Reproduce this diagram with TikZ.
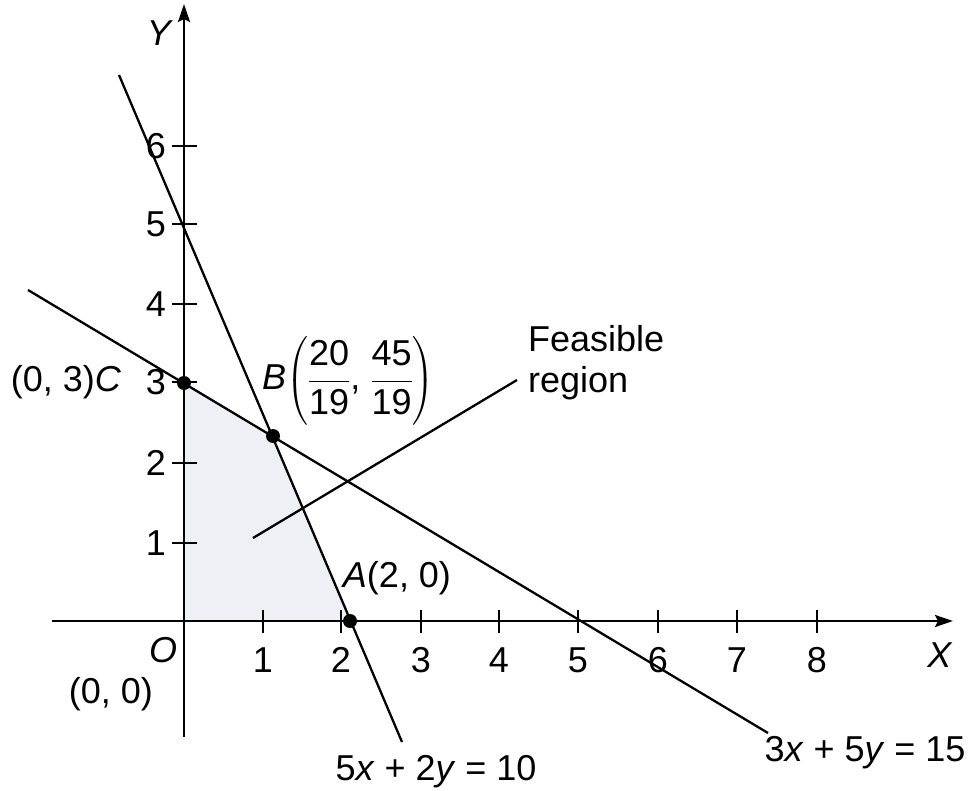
\RequirePackage{fix-cm}
\documentclass[tikz,border=0pt]{standalone}
\usepackage{amsmath}
\usepackage{fontspec}
\setmainfont{Liberation Sans}
\usetikzlibrary{arrows.meta}
\definecolor{feas}{RGB}{239,240,245}
\begin{document}
\begin{tikzpicture}[x=1pt,y=-1pt,
  lbl/.style={font=\fontsize{36}{40}\selectfont, inner sep=0pt},
  ln/.style={line width=2.3pt},
  axisln/.style={line width=2.3pt, -{Stealth[length=18pt,width=12pt,inset=3pt]}},
  tickln/.style={line width=2pt},
  dot/.style={circle, fill=black, inner sep=0pt, minimum size=14pt}]
\useasboundingbox (0,0) rectangle (972,791);
% key points
\coordinate (O) at (184,621);
\coordinate (Cp) at (184,383);
\coordinate (Bp) at (273,436);
\coordinate (Ap) at (350,621);
% feasible region
\fill[feas] (O) -- (Cp) -- (Bp) -- (Ap) -- cycle;
% axes
\coordinate (yb) at (184,737);
\coordinate (yt) at (184,4);
\coordinate (xl) at (52,621);
\coordinate (xr) at (953,621);
\draw[axisln] (yb) -- (yt);
\draw[axisln] (xl) -- (xr);
% x ticks
\foreach \i/\x in {1/263,2/341,3/421,4/499,5/578,6/658,7/737,8/817}{
  \coordinate (xt\i a) at (\x,610);
  \coordinate (xt\i b) at (\x,633);
  \draw[tickln] (xt\i a) -- (xt\i b);
  \node[lbl] (xlab\i) at (\x,660) {\i};
}
% y ticks
\foreach \i/\y in {1/543,2/463,3/382,4/304,5/224,6/146}{
  \coordinate (yt\i a) at (172,\y);
  \coordinate (yt\i b) at (197,\y);
  \draw[tickln] (yt\i a) -- (yt\i b);
  \node[lbl] (ylab\i) at (156,\y) {\i};
}
% constraint lines
\coordinate (L1a) at (119,75);
\coordinate (L1b) at (402,742);
\coordinate (L2a) at (28,290);
\coordinate (L2b) at (768,733);
\draw[ln] (L1a) -- (L1b);
\draw[ln] (L2a) -- (L2b);
% pointer
\coordinate (Pa) at (253,538);
\coordinate (Pb) at (517,380);
\draw[ln] (Pa) -- (Pb);
% dots
\node[dot] (Cd) at (Cp) {};
\node[dot] (Bd) at (Bp) {};
\node[dot] (Ad) at (Ap) {};
% labels
\node[lbl] (Ylab) at (160,33) {\textit{Y}};
\node[lbl] (Xlab) at (940,655) {\textit{X}};
\node[lbl] (Olab) at (163,650) {\textit{O}};
\node[lbl] (O0) at (111,694) {(0, 0)};
\node[lbl] (Clab) at (66,382) {(0, 3)\textit{C}};
\node[lbl, anchor=west] (Blab) at (262,381) {\textit{B}$\left(\dfrac{\text{20}}{\text{19}}\text{, }\dfrac{\text{45}}{\text{19}}\right)$};
\node[lbl] (Alab) at (397,578) {\textit{A}(2, 0)};
\node[lbl, anchor=base west] (F1) at (528,352) {Feasible};
\node[lbl, anchor=base west] (F2) at (528,393) {region};
\node[lbl] (E1) at (436,772) {5\textit{x} + 2\textit{y} = 10};
\node[lbl] (E2) at (865,753) {3\textit{x} + 5\textit{y} = 15};
\end{tikzpicture}
\end{document}
